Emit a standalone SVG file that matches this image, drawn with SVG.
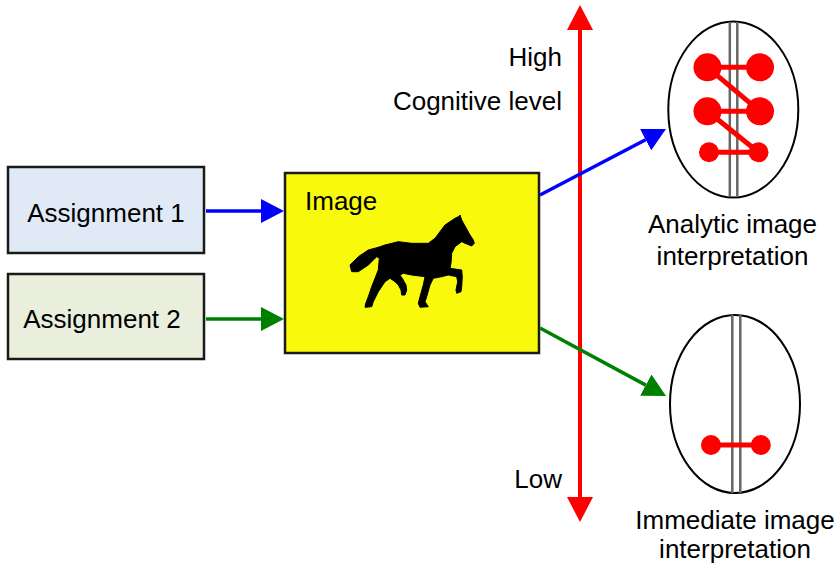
<svg xmlns="http://www.w3.org/2000/svg" width="840" height="566" viewBox="0 0 840 566">
  <style>
    text { font-family: "Liberation Sans", Arial, Helvetica, sans-serif; font-size: 26px; fill: #000; }
    .box { stroke: #1a1a1a; stroke-width: 2.5; }
    .brain { fill: #fff; stroke: #000; stroke-width: 2; }
    .mid { stroke: #666; stroke-width: 2.5; }
    .dot { fill: #ff0000; }
    .link { stroke: #ff0000; stroke-width: 5; fill: none; }
    .blue { stroke: #0000ff; stroke-width: 3.5; fill: none; marker-end: url(#headBlue); }
    .green { stroke: #008000; stroke-width: 3.5; fill: none; marker-end: url(#headGreen); }
  </style>
  <defs>
    <marker id="headBlue" viewBox="0 0 23 24" markerWidth="23" markerHeight="24" refX="0" refY="12" orient="auto" markerUnits="userSpaceOnUse">
      <path d="M0,0 L23,12 L0,24 Z" fill="#0000ff"/>
    </marker>
    <marker id="headGreen" viewBox="0 0 23 24" markerWidth="23" markerHeight="24" refX="0" refY="12" orient="auto" markerUnits="userSpaceOnUse">
      <path d="M0,0 L23,12 L0,24 Z" fill="#008000"/>
    </marker>
    <marker id="headRed" viewBox="0 0 25 26" markerWidth="25" markerHeight="26" refX="0" refY="13" orient="auto-start-reverse" markerUnits="userSpaceOnUse">
      <path d="M0,0 L25,13 L0,26 Z" fill="#ff0000"/>
    </marker>
  </defs>

  <rect width="840" height="566" fill="#fff"/>

  <!-- cognitive level axis -->
  <g id="axis">
    <line x1="580" y1="30" x2="580" y2="497" stroke="#ff0000" stroke-width="4" marker-start="url(#headRed)" marker-end="url(#headRed)"/>
    <text x="562" y="66" text-anchor="end">High</text>
    <text x="562" y="110" text-anchor="end">Cognitive level</text>
    <text x="562" y="488" text-anchor="end">Low</text>
  </g>

  <g id="assignment1">
    <rect class="box" x="8" y="167" width="196" height="86" fill="#e0eaf6"/>
    <text x="106" y="222" text-anchor="middle">Assignment 1</text>
  </g>

  <g id="assignment2">
    <rect class="box" x="8" y="274" width="196" height="85" fill="#e9efdc"/>
    <text x="102" y="328" text-anchor="middle">Assignment 2</text>
  </g>

  <g id="image">
    <rect class="box" x="285" y="173" width="254" height="180" fill="#f9f90c"/>
    <text x="305" y="210">Image</text>
    <!-- trotting horse silhouette -->
    <path fill="#000" stroke="#000" stroke-width="1" stroke-linejoin="round" d="M460,215 L461.7,220 L470,235 L473.3,240 L474.3,243.3 L471.7,246 L465,243.3 L461.7,241.7 L455,246.7 L451.7,253.3 L451,263.3 L450,268.3 L456.7,269.3 L461.7,270 L462.3,276.7 L461.7,286.7 L461,291.7 L456.7,293.3 L456,290 L457.7,281.7 L456.7,276.7 L448.3,275 L441.7,276.7 L433.3,278.3 L430,285 L426.7,296.7 L425,301.7 L428.3,306.7 L420,307.3 L418.3,303.3 L420,296.7 L423.3,285 L425,276.7 L411.7,275 L403.3,273.3 L400,275 L403.3,280 L406,285 L406.7,290 L405,295 L401.7,295 L401,290 L398.3,285 L395,281.7 L390,278.3 L385,281.7 L378.3,291.7 L373.3,301.7 L371.7,306.7 L365,307.3 L365.7,303.3 L368.3,296.7 L371.7,286.7 L375,278.3 L378.3,270 L379.3,258.3 L376.7,256.7 L368.3,265 L358.3,271.7 L351.7,271.7 L350,265 L358.3,256.7 L368.3,250 L378.3,247.3 L385,245 L398.3,241.7 L411.7,243.3 L428.3,243.3 L435,238.3 L445,225 L455,218.3 L458.3,216.7 Z"/>
  </g>

  <g id="analytic">
    <ellipse class="brain" cx="733.3" cy="109.5" rx="65" ry="88"/>
    <line class="mid" x1="729.8" y1="22" x2="729.8" y2="197"/>
    <line class="mid" x1="737.3" y1="22" x2="737.3" y2="197"/>
    <line class="link" x1="707.5" y1="67.3" x2="760" y2="67.3"/>
    <line class="link" x1="707.5" y1="111.3" x2="760" y2="111.3"/>
    <line class="link" x1="709" y1="152.3" x2="758.5" y2="152.3"/>
    <line class="link" x1="707.5" y1="67.3" x2="760" y2="111.3"/>
    <line class="link" x1="707.5" y1="111.3" x2="758.5" y2="152.3"/>
    <circle class="dot" cx="707.5" cy="67.3" r="14"/>
    <circle class="dot" cx="760" cy="67.3" r="14"/>
    <circle class="dot" cx="707.5" cy="111.3" r="14"/>
    <circle class="dot" cx="760" cy="111.3" r="14"/>
    <circle class="dot" cx="709" cy="152.3" r="10"/>
    <circle class="dot" cx="758.5" cy="152.3" r="10"/>
    <text x="732.5" y="233" text-anchor="middle">Analytic image</text>
    <text x="732.5" y="265" text-anchor="middle">interpretation</text>
  </g>

  <g id="immediate">
    <ellipse class="brain" cx="735" cy="404" rx="65" ry="89"/>
    <line class="mid" x1="732.3" y1="315" x2="732.3" y2="493"/>
    <line class="mid" x1="740.3" y1="315" x2="740.3" y2="493"/>
    <line class="link" x1="711" y1="445" x2="760.8" y2="445" stroke-width="4"/>
    <circle class="dot" cx="711" cy="445" r="10"/>
    <circle class="dot" cx="760.8" cy="445" r="10"/>
    <text x="735" y="529" text-anchor="middle">Immediate image</text>
    <text x="735" y="558" text-anchor="middle">interpretation</text>
  </g>

  <g id="connectors">
    <line class="blue" x1="206" y1="211" x2="261" y2="211"/>
    <line class="green" x1="206" y1="319" x2="261" y2="319"/>
    <line class="blue" x1="540" y1="195" x2="645.6" y2="139.7"/>
    <line class="green" x1="540" y1="328" x2="645.8" y2="385.1"/>
  </g>
</svg>
